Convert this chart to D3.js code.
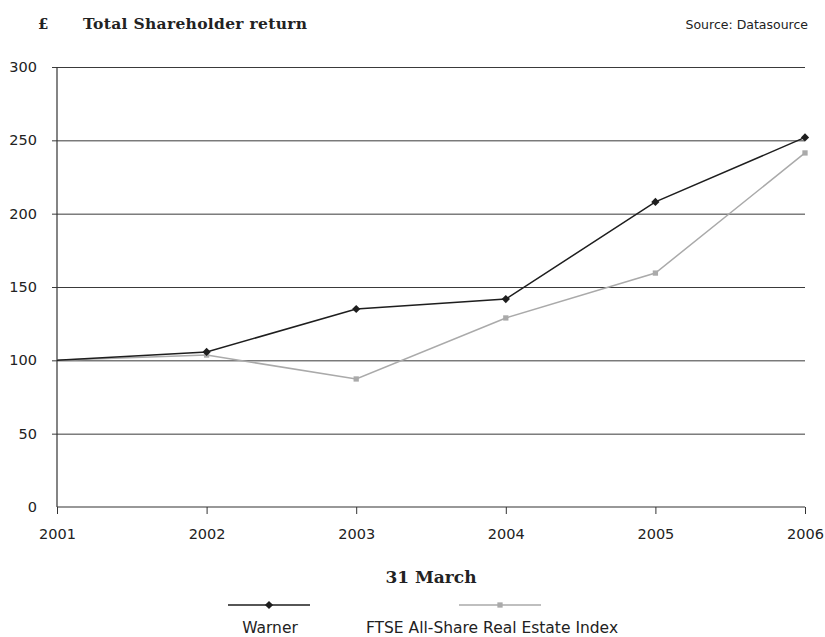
<!DOCTYPE html>
<html>
<head>
<meta charset="utf-8">
<script src="https://cdn.jsdelivr.net/npm/d3@7"></script>
<style>
  body { margin: 0; background: #fff; }
  svg text { font-family: "DejaVu Serif", serif; fill: #222; }
</style>
</head>
<body>
<div id="chart"></div>
<script>
'use strict';

// ── Data ───────────────────────────────────────────────
const years   = [2001, 2002, 2003, 2004, 2005, 2006];
const warner  = [100, 105.7, 135, 141.8, 208, 252];
const ftse    = [100, 103.6, 87.3, 128.9, 159.5, 241.4];
const yTicks  = [0, 50, 100, 150, 200, 250, 300];
const seriesNames = ['Warner', 'FTSE All-Share Real Estate Index'];

// ── Layout ─────────────────────────────────────────────
const totalW = 825, totalH = 637;
const margin = { top: 67, right: 20, bottom: 130, left: 57 };
const W = totalW - margin.left - margin.right;
const H = totalH - margin.top - margin.bottom;
const sans = '"DejaVu Sans", sans-serif';

const svg = d3.select('#chart').append('svg')
    .attr('width', totalW)
    .attr('height', totalH);

const chart = svg.append('g')
    .attr('transform', `translate(${margin.left},${margin.top})`);

// ── Scales ─────────────────────────────────────────────
const x = d3.scaleLinear().domain([2001, 2006]).range([0, W]);
const y = d3.scaleLinear().domain([0, 300]).range([H, 0]);

// Diamond = square turned 45°, as in the reference
const diamond = d3.symbol().type(d3.symbolSquare).size(34);
const square  = d3.symbol().type(d3.symbolSquare).size(28);

// ── Grid lines (with short tick stubs on the left) ────
chart.append('g')
    .call(d3.axisLeft(y).tickValues(yTicks.filter(d => d > 0))
        .tickSize(-W).tickFormat(''))
    .call(g => g.select('.domain').remove())
    .call(g => g.selectAll('line').attr('stroke', '#3a3a3a').attr('x1', -5));

// Y labels
chart.append('g')
    .call(d3.axisLeft(y).tickValues(yTicks).tickSize(0).tickPadding(20))
    .call(g => g.select('.domain').remove())
    .call(g => g.selectAll('text')
        .attr('font-size', 14.5)
        .style('font-family', sans)
        .attr('fill', '#2a2a2a'));

// Y axis line
chart.append('line')
    .attr('x1', 0).attr('x2', 0).attr('y1', 0).attr('y2', H)
    .attr('stroke', '#333').attr('stroke-width', 1.2);

// X axis
chart.append('g')
    .attr('transform', `translate(0,${H})`)
    .call(d3.axisBottom(x).tickValues(years).tickFormat(d3.format('d'))
        .tickSize(7).tickPadding(15))
    .call(g => g.select('.domain').attr('stroke', '#333').attr('stroke-width', 1.2)
        .attr('d', `M0,0H${W}`))
    .call(g => g.selectAll('line').attr('stroke', '#333'))
    .call(g => g.selectAll('text')
        .attr('font-size', 14.5)
        .style('font-family', sans)
        .attr('fill', '#2a2a2a'));

// ── Lines ──────────────────────────────────────────────
const line = d3.line().x(d => x(d.year)).y(d => y(d.value));
const toPts = vals => years.map((yr, i) => ({ year: yr, value: vals[i] }));

const series = [
    { name: seriesNames[1], pts: toPts(ftse),   colour: '#aaaaaa', sym: square,  rot: 0 },
    { name: seriesNames[0], pts: toPts(warner), colour: '#1e1e1e', sym: diamond, rot: 45 }
];

series.forEach(s => {
    chart.append('path')
        .datum(s.pts)
        .attr('fill', 'none')
        .attr('stroke', s.colour)
        .attr('stroke-width', 1.5)
        .attr('d', line);

    chart.selectAll(null)
        .data(s.pts.slice(1))
        .join('path')
        .attr('transform', d => `translate(${x(d.year)},${y(d.value)}) rotate(${s.rot})`)
        .attr('d', s.sym)
        .attr('fill', s.colour);
});

// ── Titles ─────────────────────────────────────────────
svg.append('text')
    .attr('x', 38).attr('y', 29)
    .attr('font-size', 15).attr('font-weight', 'bold')
    .text('£');

svg.append('text')
    .attr('x', 83).attr('y', 29)
    .attr('font-size', 15.5).attr('font-weight', 'bold')
    .attr('textLength', 224)
    .text('Total Shareholder return');

svg.append('text')
    .attr('x', 808).attr('y', 29)
    .attr('text-anchor', 'end')
    .attr('font-size', 12.5)
    .style('font-family', sans)
    .attr('fill', '#333')
    .text('Source: Datasource');

svg.append('text')
    .attr('x', 431).attr('y', 583)
    .attr('text-anchor', 'middle')
    .attr('font-size', 17).attr('font-weight', 'bold')
    .text('31 March');

// ── Legend ─────────────────────────────────────────────
const legend = [
    { name: seriesNames[0], cx: 269, tx: 270, colour: '#1e1e1e', sym: diamond, rot: 45 },
    { name: seriesNames[1], cx: 500, tx: 492, colour: '#aaaaaa', sym: square,  rot: 0 }
];

legend.forEach(l => {
    svg.append('line')
        .attr('x1', l.cx - 41).attr('x2', l.cx + 41)
        .attr('y1', 605).attr('y2', 605)
        .attr('stroke', l.colour).attr('stroke-width', 1.5);
    svg.append('path')
        .attr('transform', `translate(${l.cx},605) rotate(${l.rot})`)
        .attr('d', l.sym)
        .attr('fill', l.colour);
    svg.append('text')
        .attr('x', l.tx).attr('y', 633)
        .attr('text-anchor', 'middle')
        .attr('font-size', 15.5)
        .style('font-family', sans)
        .attr('fill', '#2a2a2a')
        .text(l.name);
});
</script>
</body>
</html>
